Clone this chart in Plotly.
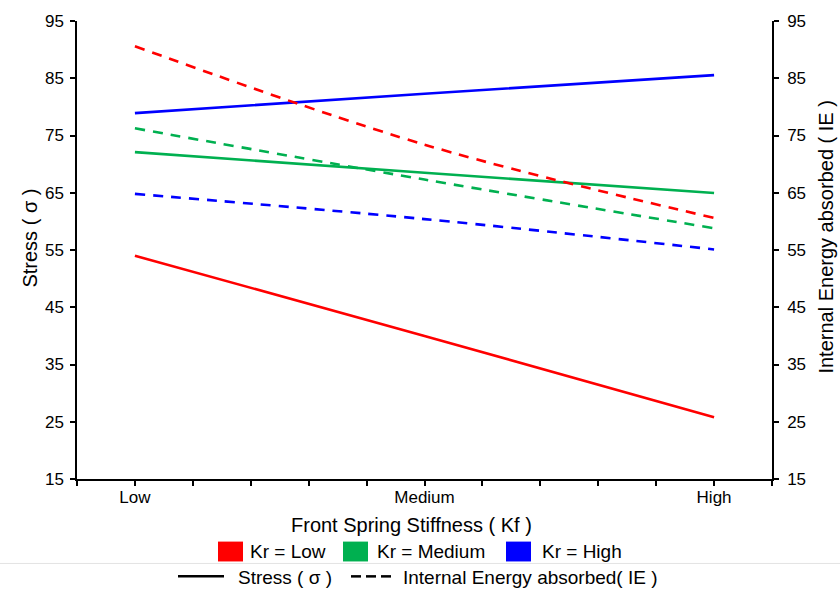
import plotly.graph_objects as go

# ---------------- data ----------------
categories = ["Low", "Medium", "High"]
kr_levels = ["Low", "Medium", "High"]
stress_low = [54.0, 40.0, 25.8]
stress_medium = [72.1, 68.5, 64.95]
stress_high = [78.9, 82.3, 85.55]
ie_low = [90.6, 73.4, 60.6]
ie_medium = [76.25, 67.3, 58.8]
ie_high = [64.8, 60.4, 55.1]
y_ticks = [15, 25, 35, 45, 55, 65, 75, 85, 95]

colors = {"Low": "#ff0000", "Medium": "#00b050", "High": "#0000ff"}
stress = {"Low": stress_low, "Medium": stress_medium, "High": stress_high}
ie = {"Low": ie_low, "Medium": ie_medium, "High": ie_high}

W, H = 840, 590
ML, MR, MT, MB = 77, 68, 18, 111
PW, PH = W - ML - MR, H - MT - MB
FONT = "Liberation Sans, Arial, sans-serif"


def px(x):
    return (x - ML) / PW


def py(y):
    return (H - MB - y) / PH


xpos = list(range(len(categories)))
fig = go.Figure()
for k in kr_levels:
    fig.add_trace(go.Scatter(x=xpos, y=stress[k], mode="lines",
                             line=dict(color=colors[k], width=2.6, shape="spline"),
                             showlegend=False, yaxis="y"))
for k in kr_levels:
    fig.add_trace(go.Scatter(x=xpos, y=ie[k], mode="lines",
                             line=dict(color=colors[k], width=2.6, dash="10px,8px",
                                       shape="spline"),
                             showlegend=False, yaxis="y2"))

minor_vals = [round(-0.2 + 0.2 * i, 2) for i in range(13)]
minor_text = []
for v in minor_vals:
    if abs(v - round(v)) < 1e-9 and 0 <= round(v) < len(categories):
        minor_text.append(categories[int(round(v))])
    else:
        minor_text.append("")

axis_common = dict(showgrid=False, zeroline=False, showline=True, linecolor="black",
                   linewidth=1.5, ticks="outside", ticklen=5, tickwidth=1.5,
                   tickcolor="black")

shapes = []
annotations = []

# axis titles
annotations.append(dict(xref="paper", yref="paper", x=px(411), y=py(525),
                        text="Front Spring Stiffness ( Kf )", showarrow=False,
                        xanchor="center", yanchor="middle",
                        font=dict(family=FONT, size=20, color="black")))
annotations.append(dict(xref="paper", yref="paper", x=px(30), y=py(237),
                        text="Stress ( σ )", showarrow=False, textangle=-90,
                        xanchor="center", yanchor="middle",
                        font=dict(family=FONT, size=20, color="black")))
annotations.append(dict(xref="paper", yref="paper", x=px(826), y=py(236),
                        text="Internal Energy absorbed ( IE )", showarrow=False, textangle=-90,
                        xanchor="center", yanchor="middle",
                        font=dict(family=FONT, size=20, color="black")))

# legend row 1: coloured squares
sq = [(218, 243, "Low", 248, "Kr = Low"), (343, 368, "Medium", 375, "Kr = Medium"),
      (506, 531, "High", 540, "Kr = High")]
for x0, x1, k, tx, label in sq:
    shapes.append(dict(type="rect", xref="paper", yref="paper", x0=px(x0), x1=px(x1),
                       y0=py(562), y1=py(542), fillcolor=colors[k],
                       line=dict(width=0), layer="above"))
    annotations.append(dict(xref="paper", yref="paper", x=px(tx), y=py(552), text=label,
                            showarrow=False, xanchor="left", yanchor="middle",
                            font=dict(family=FONT, size=19, color="black")))

# separator
shapes.append(dict(type="line", xref="paper", yref="paper", x0=px(0), x1=px(840),
                   y0=py(564), y1=py(564), line=dict(color="#e3e3e3", width=1)))

# legend row 2: line styles
shapes.append(dict(type="line", xref="paper", yref="paper", x0=px(178), x1=px(224),
                   y0=py(577), y1=py(577), line=dict(color="black", width=2.5)))
annotations.append(dict(xref="paper", yref="paper", x=px(236), y=py(578), text="Stress ( σ )",
                        showarrow=False, xanchor="left", yanchor="middle",
                        font=dict(family=FONT, size=19, color="black")))
for d0 in (351, 366, 381):
    shapes.append(dict(type="line", xref="paper", yref="paper", x0=px(d0), x1=px(d0 + 10),
                       y0=py(577), y1=py(577), line=dict(color="black", width=2.5)))
annotations.append(dict(xref="paper", yref="paper", x=px(401), y=py(578),
                        text="Internal Energy absorbed( IE )",
                        showarrow=False, xanchor="left", yanchor="middle",
                        font=dict(family=FONT, size=19, color="black")))

fig.update_layout(
    width=W, height=H,
    margin=dict(l=ML, r=MR, t=MT, b=MB, pad=0),
    paper_bgcolor="white", plot_bgcolor="white",
    font=dict(family=FONT, color="black"),
    showlegend=False,
    xaxis=dict(range=[-0.2, 2.2], tickmode="array", tickvals=minor_vals, ticktext=minor_text,
               tickfont=dict(size=17), ticklabelstandoff=-3, **axis_common),
    yaxis=dict(range=[15, 95], tickmode="array", tickvals=y_ticks, tickfont=dict(size=17),
               ticklabelstandoff=3, **axis_common),
    yaxis2=dict(range=[15, 95], tickmode="array", tickvals=y_ticks, tickfont=dict(size=17),
                overlaying="y", side="right", ticklabelstandoff=5, **axis_common),
    shapes=shapes,
    annotations=annotations,
)

fig.write_html("out.html")
